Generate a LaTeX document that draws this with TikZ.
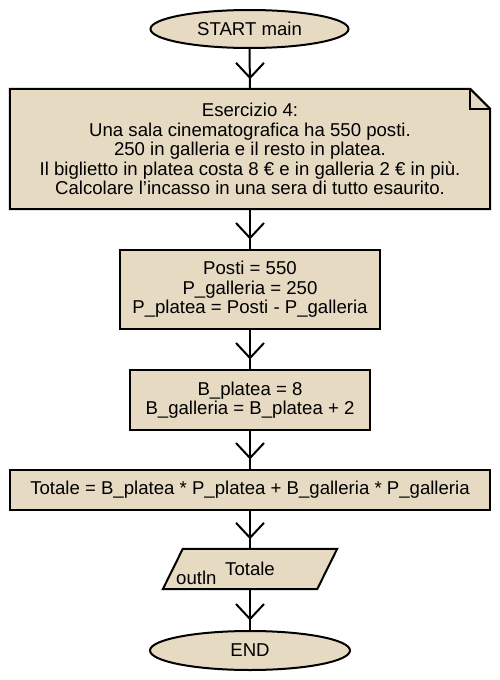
\documentclass[tikz,border=0pt]{standalone}
\usepackage{fontspec}
\setmainfont{Liberation Sans}
\usetikzlibrary{shapes.geometric,calc,backgrounds}
\definecolor{fc}{RGB}{230,218,195}
\begin{document}
\begin{tikzpicture}[x=1pt,y=-1pt,
  every node/.style={font=\fontsize{18.6}{19.6}\selectfont},
  box/.style={draw,fill=fc,line width=2pt,rectangle,align=center,inner sep=0pt},
  term/.style={draw,fill=fc,line width=2pt,ellipse,inner sep=0pt},
  plain/.style={rectangle,align=center,inner sep=0pt},
  conn/.style={line width=2pt},
  shp/.style={draw,fill=fc,line width=2pt,line join=miter}
  ]
\useasboundingbox (0,0) rectangle (500,680);

\node[term,minimum width=198pt,minimum height=38pt] (start) at (249.5,29) {START main};

\node[plain,minimum width=480pt,minimum height=120pt] (note) at (250,149) {Esercizio 4:\\
Una sala cinematografica ha 550 posti.\\
250 in galleria e il resto in platea.\\
Il biglietto in platea costa 8 € e in galleria 2 € in più.\\
Calcolare l’incasso in una sera di tutto esaurito.};

\node[box,minimum width=260pt,minimum height=79pt] (b2) at (250,289.5) {Posti = 550\\P\_galleria = 250\\P\_platea = Posti - P\_galleria};

\node[box,minimum width=240pt,minimum height=60pt] (b3) at (250,400) {B\_platea = 8\\B\_galleria = B\_platea + 2};

\node[box,minimum width=480pt,minimum height=40pt] (b4) at (250,490) {Totale = B\_platea * P\_platea + B\_galleria * P\_galleria};

\node[plain,minimum width=174pt,minimum height=40pt] (out) at (250,569) {Totale};
\node[plain,anchor=base west] (outlbl) at (176,584.5) {outln};

\node[term,minimum width=200pt,minimum height=39pt] (end) at (250,650.5) {END};

\begin{scope}[on background layer]
  \fill[white] (0,0) rectangle (500,680);
  \draw[shp] (note.north west) -- ($(note.north east)+(-20,0)$) -- ($(note.north east)+(0,20)$) -- (note.south east) -- (note.south west) -- cycle;
  \draw[line width=2pt] ($(note.north east)+(-20,0)$) -- ($(note.north east)+(-20,20)$) -- ($(note.north east)+(0,20)$);
  \draw[shp] ($(out.north west)+(20,0)$) -- (out.north east) -- ($(out.south east)+(-20,0)$) -- (out.south west) -- cycle;
\end{scope}

\foreach \a/\b in {start/note,note/b2,b2/b3,b3/b4,b4/out,out/end}{
  \draw[conn] (\a.south) -- (\b.north);
  \draw[conn] ($(\b.north)+(-14,-26)$) -- ($(\b.north)+(0,-11)$) -- ($(\b.north)+(14,-26)$);
}
\end{tikzpicture}
\end{document}
